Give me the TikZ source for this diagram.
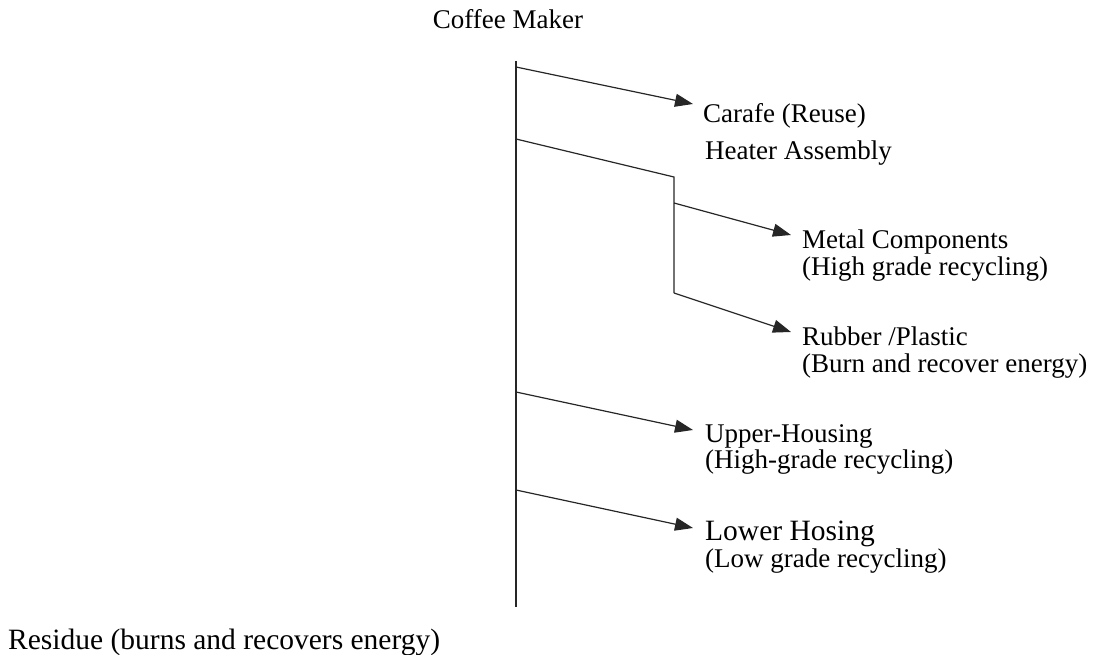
\documentclass[tikz,border=0pt]{standalone}
\usepackage{fontspec}
\setmainfont{Liberation Serif}
\usetikzlibrary{arrows.meta}
\begin{document}
\begin{tikzpicture}[x=1pt,y=-1pt,
  line/.style={line width=1.2pt,draw=black!85},
  arr/.style={line,-{Triangle[length=18pt,width=13pt]}},
  lbl/.style={anchor=base west,inner sep=0pt,font=\fontsize{27}{27}\selectfont},
  biglbl/.style={anchor=base west,inner sep=0pt,font=\fontsize{29.5}{30}\selectfont}]
\useasboundingbox (0,0) rectangle (1100,655);

% labels (positions are baselines)
\node[anchor=base,inner sep=0pt,font=\fontsize{27}{27}\selectfont] (root) at (508,29) {Coffee Maker};
\node[lbl] (carafe) at (703,123) {Carafe (Reuse)};
\node[lbl] (heater) at (705,160) {Heater Assembly};
\node[lbl] (metal) at (802,248) {Metal Components};
\node[lbl] (metalnote) at ([yshift=-27pt]metal.base west) {(High grade recycling)};
\node[lbl] (rubber) at (802,345) {Rubber /Plastic};
\node[lbl] (rubbernote) at ([yshift=-27pt]rubber.base west) {(Burn and recover energy)};
\node[lbl] (upper) at (705,442) {Upper-Housing};
\node[lbl] (uppernote) at ([yshift=-26pt]upper.base west) {(High-grade recycling)};
\node[biglbl] (lower) at (705,540) {Lower Hosing};
\node[lbl] (lowernote) at ([yshift=-27pt]lower.base west) {(Low grade recycling)};
\node[biglbl] (residue) at (8,649) {Residue (burns and recovers energy)};

% trunk
\coordinate (top) at (516,61);
\coordinate (bot) at (516,607);
\draw[line] (top) -- (bot);

% branch points on the trunk and arrow tips
\coordinate (b1) at (516,67);   \coordinate (t1) at (693,104);
\coordinate (b2) at (516,139);
\coordinate (h1) at (674,177);  \coordinate (h2) at (674,293);
\coordinate (hm) at (674,203);
\coordinate (t2) at (791,235);  \coordinate (t3) at (791,332);
\coordinate (b3) at (516,392);  \coordinate (t4) at (693,430);
\coordinate (b4) at (516,490);  \coordinate (t5) at (693,528);

\draw[arr] (b1) -- (t1);
\draw[line] (b2) -- (h1) -- (h2);
\draw[arr] (hm) -- (t2);
\draw[arr] (h2) -- (t3);
\draw[arr] (b3) -- (t4);
\draw[arr] (b4) -- (t5);
\end{tikzpicture}
\end{document}
